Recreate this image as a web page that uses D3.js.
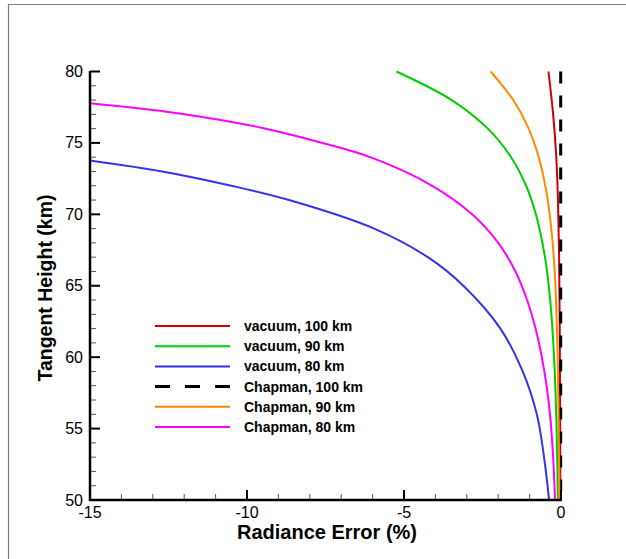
<!DOCTYPE html>
<html><head><meta charset="utf-8">
<script src="https://cdn.jsdelivr.net/npm/d3@7/dist/d3.min.js"></script>
<style>body{margin:0;background:#fff}svg{display:block}</style>
</head><body><svg id="c" width="626" height="559"></svg>
<script>
const xTicks = [-15, -10, -5, 0];
const yTicks = [50, 55, 60, 65, 70, 75, 80];
const seriesNames = ["vacuum, 100 km", "vacuum, 90 km", "vacuum, 80 km", "Chapman, 100 km", "Chapman, 90 km", "Chapman, 80 km"];
const seriesColors = ["#cc0000", "#00cc00", "#3333ee", "#000000", "#ff8800", "#ff00ff"];
// [error %, tangent height km]
const vac100 = [[-0.40,80],[-0.25,77],[-0.15,74],[-0.096,71],[-0.06,67],[-0.04,62],[-0.028,56],[-0.02,50]];
const vac90 = [[-5.24,80],[-3.48,78],[-2.33,76],[-1.59,74],[-1.11,72],[-0.80,70],[-0.51,67],[-0.345,64],[-0.22,60],[-0.14,55],[-0.10,50]];
const vac80 = [[-15.1,73.8],[-12.7,73],[-10.5,72],[-8.66,71],[-5.95,69],[-4.24,67],[-3.11,65],[-1.93,62],[-1.22,59],[-0.77,56],[-0.54,53],[-0.38,50]];
const chap100 = [[-0.01,80],[-0.01,50]];
const chap90 = [[-2.24,80],[-1.52,78],[-1.03,76],[-0.71,74],[-0.50,72],[-0.36,70],[-0.23,67],[-0.16,64],[-0.107,60],[-0.072,55],[-0.05,50]];
const chap80 = [[-15.1,77.8],[-12.27,77.1],[-9.51,76.05],[-7.6,75.0],[-6.01,73.95],[-4.1,72],[-2.83,70],[-2.0,68],[-1.45,66],[-1.08,64],[-0.81,62],[-0.53,59],[-0.35,56],[-0.25,53],[-0.19,50]];
const allSeries = [vac100, vac90, vac80, chap100, chap90, chap80];

const svg = d3.select("#c");
svg.append("path").attr("d","M8.5,559 L8.5,4.5 L626,4.5").attr("fill","none").attr("stroke","#808080").attr("stroke-width",1.2);

const x = d3.scaleLinear().domain([-15,0]).range([90,561]);
const y = d3.scaleLinear().domain([50,80]).range([500,71.5]);

svg.append("defs").append("clipPath").attr("id","pc").append("rect")
  .attr("x",90).attr("y",68).attr("width",480).attr("height",434);

const line = d3.line().x(d=>x(d[0])).y(d=>y(d[1])).curve(d3.curveCatmullRom.alpha(0.5));
const g = svg.append("g").attr("clip-path","url(#pc)");
allSeries.forEach((s,i)=>{
  g.append("path").attr("d", line(s)).attr("fill","none")
   .attr("stroke", seriesColors[i]).attr("stroke-width", i===3?3:2)
   .attr("stroke-dasharray", i===3?"12,12":null);
});

const axG = svg.append("g").attr("font-family","Liberation Sans, Arial, sans-serif");
d3.range(-15,0.01,1).forEach(v=>{ if(v%5!==0) axG.append("line").attr("x1",x(v)).attr("x2",x(v)).attr("y1",500).attr("y2",494).attr("stroke","#555").attr("stroke-width",1); });
d3.range(50,80.01,1).forEach(v=>{ if(v%5!==0) axG.append("line").attr("x1",90).attr("x2",96).attr("y1",y(v)).attr("y2",y(v)).attr("stroke","#555").attr("stroke-width",1); });
xTicks.forEach(v=>{
  axG.append("line").attr("x1",x(v)).attr("x2",x(v)).attr("y1",500).attr("y2",490).attr("stroke","#000").attr("stroke-width",2);
  axG.append("text").attr("x",x(v)).attr("y",518).attr("text-anchor","middle").attr("font-size",16).text(v);
});
yTicks.forEach(v=>{
  axG.append("line").attr("x1",90).attr("x2",100).attr("y1",y(v)).attr("y2",y(v)).attr("stroke","#000").attr("stroke-width",2);
  axG.append("text").attr("x",83).attr("y",y(v)+5.5).attr("text-anchor","end").attr("font-size",16).text(v);
});
axG.append("line").attr("x1",90).attr("x2",90).attr("y1",71).attr("y2",501).attr("stroke","#000").attr("stroke-width",2.5);
axG.append("line").attr("x1",89).attr("x2",562).attr("y1",500).attr("y2",500).attr("stroke","#000").attr("stroke-width",2.5);

axG.append("text").attr("x",327).attr("y",539).attr("text-anchor","middle").attr("font-size",20).attr("font-weight","bold").text("Radiance Error (%)");
axG.append("text").attr("transform","translate(52,288) rotate(-90)").attr("text-anchor","middle").attr("font-size",19.5).attr("font-weight","bold").text("Tangent Height (km)");

const lg = svg.append("g").attr("font-family","Liberation Sans, Arial, sans-serif");
seriesNames.forEach((n,i)=>{
  const yy = 326 + i*20.2;
  lg.append("line").attr("x1",155).attr("x2",230).attr("y1",yy).attr("y2",yy)
    .attr("stroke",seriesColors[i]).attr("stroke-width",i===3?3:2).attr("stroke-dasharray",i===3?"15,15":null);
  lg.append("text").attr("x",244).attr("y",yy+5).attr("font-size",14).attr("font-weight","bold").text(n);
});
</script></body></html>
